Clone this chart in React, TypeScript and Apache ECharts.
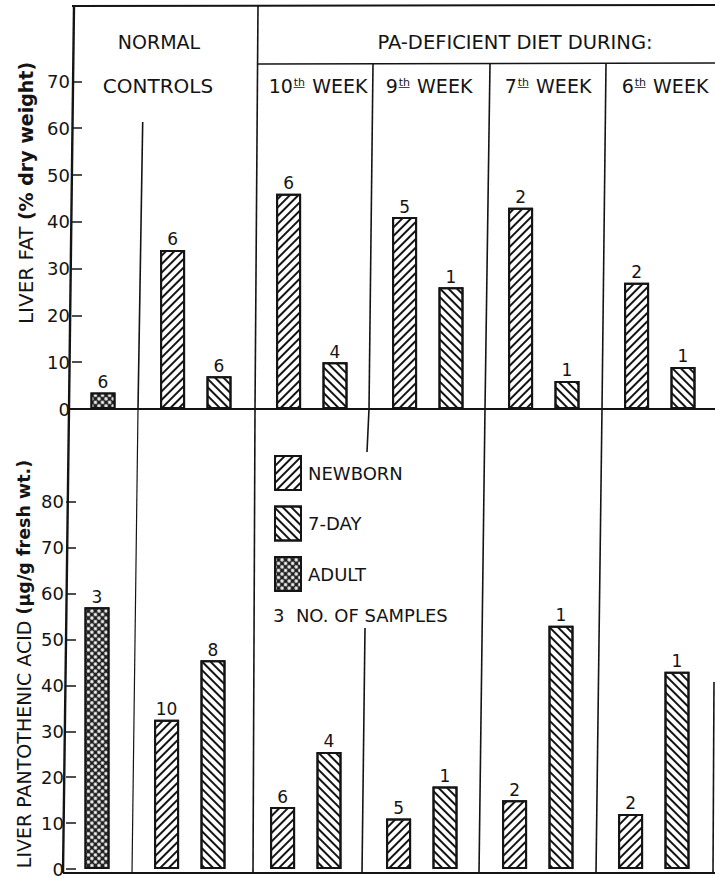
import React, { useEffect, useRef } from "react";
import * as echarts from "echarts";

// ---- data ----
const groupLabels = ["NORMAL CONTROLS", "10th WEEK", "9th WEEK", "7th WEEK", "6th WEEK"];
const weekNumbers = ["10", "9", "7", "6"];
const legendNames = ["NEWBORN", "7-DAY", "ADULT"];

// Liver fat (% dry weight)
const fatAdult = [3.5];
const fatAdultN = [6];
const fatNewborn = [34, 46, 41, 43, 27];
const fatNewbornN = [6, 6, 5, 2, 2];
const fat7Day = [7, 10, 26, 6, 9];
const fat7DayN = [6, 4, 1, 1, 1];

// Liver pantothenic acid (µg/g fresh wt.)
const paAdult = [57];
const paAdultN = [3];
const paNewborn = [32.5, 13.5, 11, 15, 12];
const paNewbornN = [10, 6, 5, 2, 2];
const pa7Day = [45.5, 25.5, 18, 53, 43];
const pa7DayN = [8, 4, 1, 1, 1];

const FONT = '"DejaVu Sans", "Liberation Sans", sans-serif';
const INK = "#141414";

// slot layout: adult at 0, each group g: newborn at 3+5g, 7-day at 5+5g
const adultSlot = () => 0;
const newbornSlot = (g: number) => 3 + 5 * g;
const daySlot = (g: number) => 5 + 5 * g;

const decalNewborn = {
  symbol: "rect",
  symbolSize: 1,
  dashArrayX: [1, 0],
  dashArrayY: [1.6, 3.6],
  rotation: -Math.PI / 4,
  color: INK,
};
const decal7Day = {
  symbol: "rect",
  symbolSize: 1,
  dashArrayX: [1, 0],
  dashArrayY: [1.6, 3.6],
  rotation: Math.PI / 4,
  color: INK,
};
const decalAdult = {
  symbol: "circle",
  symbolSize: 0.9,
  dashArrayX: [3.4, 1],
  dashArrayY: [3.4, 1],
  rotation: Math.PI / 4,
  color: "#f2f2f2",
};

function barSeries(
  name: string,
  values: number[],
  counts: number[],
  slotOf: (g: number) => number,
  decal: any,
  idx: number,
  fill = "#ffffff"
) {
  return {
    type: "bar",
    name,
    xAxisIndex: idx,
    yAxisIndex: idx,
    data: values.map((v, g) => [slotOf(g), v]),
    barWidth: 25,
    barGap: "-100%",
    itemStyle: { color: fill, borderColor: INK, borderWidth: 2, decal },
    label: {
      show: true,
      position: "top",
      distance: 2,
      fontSize: 17,
      fontFamily: FONT,
      color: INK,
      formatter: (p: any) => String(counts[p.dataIndex]),
    },
    emphasis: { disabled: true },
  };
}

function line(x1: number, y1: number, x2: number, y2: number, w = 1.6) {
  return {
    type: "line",
    shape: { x1, y1, x2, y2 },
    style: { stroke: INK, lineWidth: w },
    silent: true,
  };
}

function text(t: string, x: number, y: number, size: number, extra: any = {}) {
  return {
    type: "text",
    x,
    y,
    silent: true,
    style: {
      text: t,
      fontSize: size,
      fontFamily: FONT,
      fill: INK,
      align: "center",
      verticalAlign: "middle",
      ...extra,
    },
  };
}

export default function App() {
  const ref = useRef<HTMLDivElement>(null);

  useEffect(() => {
    if (!ref.current) return;
    const chart = echarts.init(ref.current, null, { renderer: "svg" });

    const unit = 23.2;
    const xMin = -(103 - 72) / unit;
    const xMax = (715 - 103) / unit;

    const yAxisCommon = {
      type: "value",
      min: 0,
      interval: 10,
      splitLine: { show: false },
      axisLine: { show: false, onZero: false },
      axisTick: { show: true, inside: true, length: 10, lineStyle: { color: INK, width: 1.5 } },
      axisLabel: { fontSize: 18, fontFamily: FONT, color: INK, margin: 2 },
    };
    const xAxisCommon = {
      type: "value",
      min: xMin,
      max: xMax,
      show: false,
    };

    const weekCenters = [318, 429, 548, 665];

    const graphics: any[] = [
      // frame & dividers (top panel)
      line(72, 6, 715, 5, 2),
      line(74, 6, 69, 409, 2.4),
      line(69, 409, 63, 873, 2.4),
      line(258, 6, 255, 409),
      line(258, 64, 715, 63),
      line(142.7, 122, 138, 409),
      line(373, 64, 369, 409),
      line(490, 64, 485, 409),
      line(606, 64, 602, 409),
      line(69, 409, 715, 409, 2),
      // bottom panel dividers
      line(255, 409, 253, 873),
      line(138, 409, 132, 873, 1.2),
      line(369, 409, 367, 452),
      line(365, 628, 362, 873),
      line(485, 409, 479, 873),
      line(602, 409, 596, 873),
      line(714, 682, 713, 873),
      line(63, 873, 715, 873, 2),
      // headers
      text("NORMAL", 159, 42, 19),
      text("CONTROLS", 158, 86, 20),
      text("PA-DEFICIENT DIET DURING:", 515, 42, 19.5),
      ...weekNumbers.map((w, i) =>
        text(`{n|${w}}{s|t\u0332h\u0332}{n| WEEK}`, weekCenters[i], 86, 19, {
          rich: {
            n: { fontSize: 19, fontFamily: FONT, fill: INK },
            s: { fontSize: 11, fontFamily: FONT, fill: INK, verticalAlign: "top", padding: [0, 1, 6, 1] },
          },
        })
      ),
      // axis titles
      {
        ...text("{a|LIVER FAT }{b|(% dry weight)}", 26, 193, 20, {
          rich: {
            a: { fontSize: 20, fontFamily: FONT, fill: INK },
            b: { fontSize: 19, fontFamily: FONT, fill: INK, fontWeight: "bold" },
          },
        }),
        rotation: Math.PI / 2,
      },
      {
        ...text("{a|LIVER PANTOTHENIC ACID }{b|(\u00b5g/g fresh wt.)}", 24, 664, 19, {
          rich: {
            a: { fontSize: 19, fontFamily: FONT, fill: INK },
            b: { fontSize: 17.5, fontFamily: FONT, fill: INK, fontWeight: "bold" },
          },
        }),
        rotation: Math.PI / 2,
      },
      // legend note
      text("3  NO. OF SAMPLES", 273, 615, 18, { align: "left" }),
    ];

    chart.setOption({
      animation: false,
      backgroundColor: "#ffffff",
      grid: [
        { left: 72, right: 0, top: 409 - 70 * 4.68, bottom: 878 - 409 },
        { left: 66, right: 6, top: 873 - 80 * 4.64, bottom: 5 },
      ],
      xAxis: [
        { ...xAxisCommon, gridIndex: 0 },
        { ...xAxisCommon, gridIndex: 1 },
      ],
      yAxis: [
        { ...yAxisCommon, gridIndex: 0, max: 70 },
        { ...yAxisCommon, gridIndex: 1, max: 80 },
      ],
      legend: {
        data: legendNames,
        orient: "vertical",
        left: 274,
        top: 455,
        padding: 0,
        icon: "rect",
        itemWidth: 26,
        itemHeight: 34,
        itemGap: 14.5,
        selectedMode: false,
        textStyle: { fontSize: 18, fontFamily: FONT, color: INK, padding: [0, 0, 0, 2] },
      },
      graphic: graphics,
      series: [
        barSeries(legendNames[0], fatNewborn, fatNewbornN, newbornSlot, decalNewborn, 0),
        barSeries(legendNames[1], fat7Day, fat7DayN, daySlot, decal7Day, 0),
        barSeries(legendNames[2], fatAdult, fatAdultN, adultSlot, decalAdult, 0, "#1c1c1c"),
        barSeries(legendNames[0], paNewborn, paNewbornN, newbornSlot, decalNewborn, 1),
        barSeries(legendNames[1], pa7Day, pa7DayN, daySlot, decal7Day, 1),
        barSeries(legendNames[2], paAdult, paAdultN, adultSlot, decalAdult, 1, "#1c1c1c"),
      ],
    });

    return () => chart.dispose();
  }, []);

  return (
    <div
      ref={ref}
      style={{ position: "fixed", left: 0, top: 0, width: 715, height: 878, background: "#fff" }}
    />
  );
}
